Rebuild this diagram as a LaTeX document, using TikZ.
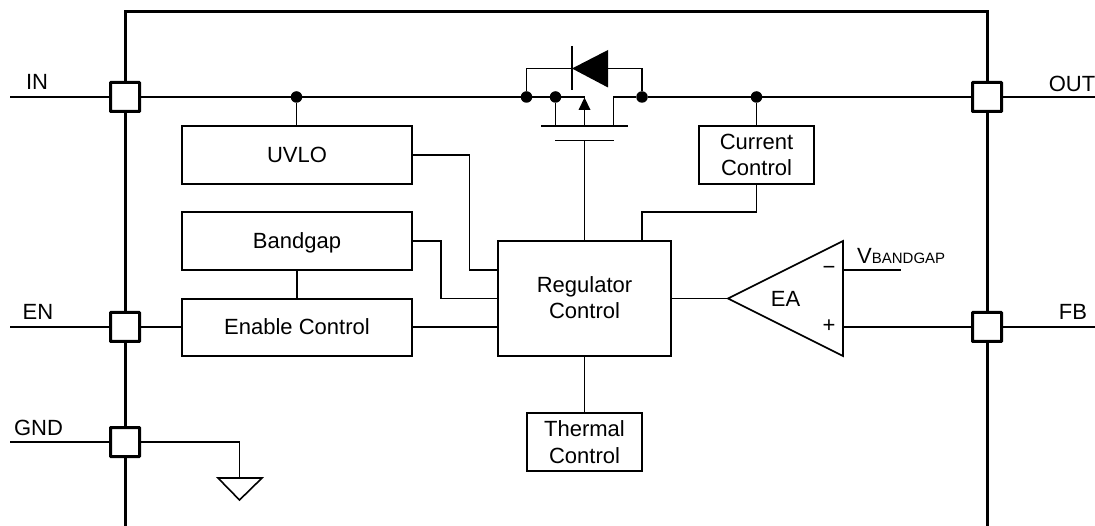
\documentclass[tikz,border=0pt]{standalone}
\usepackage{fontspec}
\setmainfont{Liberation Sans}
\usetikzlibrary{calc}
\tikzset{
  blockbox/.style={draw=black,line width=1.6pt,fill=white,inner sep=0pt,align=center,font=\fontsize{22}{26.5}\selectfont},
  pinbox/.style={draw=black,line width=3pt,fill=white,minimum width=29pt,minimum height=29pt,inner sep=0pt,rounded corners=0.5pt},
  wire/.style={draw=black,line width=1.6pt,line join=miter},
  frame/.style={draw=black,line width=3pt},
  dotnode/.style={circle,fill=black,minimum size=11.5pt,inner sep=0pt},
  lbl/.style={inner sep=0pt,font=\fontsize{22}{26}\selectfont},
  sign/.style={inner sep=0pt,font=\fontsize{22}{26}\selectfont}
}
\begin{document}
\begin{tikzpicture}[x=1pt,y=-1pt]
\useasboundingbox (0,0) rectangle (1095,526);
\fill[white] (0,0) rectangle (1095,526);
% frame
\draw[frame] (125,526) -- (125,12) -- (987,12) -- (987,526);
% pins
\node[pinbox] (pinIN) at (125,97) {};
\node[pinbox] (pinEN) at (125,327) {};
\node[pinbox] (pinGND) at (125,442) {};
\node[pinbox] (pinOUT) at (987,97) {};
\node[pinbox] (pinFB) at (987,327) {};
% free ends
\coordinate (inL) at (10,97);
\coordinate (enL) at (10,327);
\coordinate (gndL) at (10,442);
\coordinate (outR) at (1095,97);
\coordinate (fbR) at (1095,327);
% blocks
\node[blockbox,minimum width=230pt,minimum height=58pt] (uvlo) at (297,155) {UVLO};
\node[blockbox,minimum width=230pt,minimum height=58pt] (bandgap) at (297,241) {\rule{0pt}{20pt}Bandgap};
\node[blockbox,minimum width=230pt,minimum height=57pt] (enable) at (297,327.5) {\rule[-1pt]{0pt}{0pt}Enable Control};
\node[blockbox,minimum width=173pt,minimum height=115pt] (reg) at (584.5,298.5) {Regulator\\Control\rule[-2pt]{0pt}{0pt}};
\node[blockbox,minimum width=115pt,minimum height=58pt] (therm) at (584.5,442) {Thermal\\Control};
\node[blockbox,minimum width=115pt,minimum height=58pt] (curr) at (756.5,155) {Current\\Control};
% dots
\node[dotnode] (d1) at (296.5,97) {};
\node[dotnode] (d2) at (526.5,97) {};
\node[dotnode] (d3) at (555.5,97) {};
\node[dotnode] (d4) at (642,97) {};
\node[dotnode] (d5) at (756.5,97) {};
% FET helpers
\coordinate (chL) at (541,126);
\coordinate (chR) at (628,126);
\coordinate (gateL) at (555,140.5);
\coordinate (gateR) at (613.5,140.5);
\coordinate (gateM) at (584.5,140.5);
\coordinate (srcT) at (584.5,97);
\coordinate (srcB) at (584.5,126);
\coordinate (drB) at (613.5,126);
\coordinate (drT) at (613.5,97);
\coordinate (srcS) at (555.5,126);
% wires on the rails
\draw[wire] (inL) -- (pinIN);
\draw[wire] (pinIN) -- (d1) -- (d2) -- (d3) -- (srcT) -- (srcB);
\draw[wire] (d3) -- (srcS);
\draw[wire] (chL) -- (chR);
\draw[wire] (drB) -- (drT) -- (d4) -- (d5) -- (pinOUT);
\draw[wire] (pinOUT) -- (outR);
\draw[wire] (gateL) -- (gateR);
\draw[wire] (gateM) -- (gateM |- reg.north);
% arrow on FET
\fill[black] (584.5,97.5) -- (590.5,110) -- (578.5,110) -- cycle;
% diode
\coordinate (diodeK) at (572,68.5);
\draw[wire] (d2) |- (diodeK);
\draw[wire] (diodeK) -| (d4);
\draw[wire] (572,46) -- (572,90.5);
\fill[black] (diodeK) -- (608,50) -- (608,87.5) -- cycle;
% block wires
\draw[wire] (d1) -- (d1 |- uvlo.north);
\draw[wire] (d5) -- (curr.north);
\draw[wire] (uvlo.east) -- (469.5,155) -- (469.5,270) -- (reg.west |- 0,270);
\draw[wire] (bandgap.east) -- (441,241) -- (441,298.5) -- (reg.west);
\draw[wire] (bandgap.south) -- (enable.north);
\draw[wire] (pinEN) -- (enable.west |- pinEN);
\draw[wire] (enL) -- (pinEN);
\draw[wire] (enable.east |- pinEN) -- (reg.west |- pinEN);
\draw[wire] (reg.south) -- (therm.north);
\draw[wire] (642,241) -- (642,212) -- (756.5,212) -- (curr.south);
% EA
\coordinate (eaTip) at (728,298.5);
\coordinate (eaTop) at (843,241);
\coordinate (eaBot) at (843,356);
\draw[wire,line join=miter] (eaTip) -- (eaTop) -- (eaBot) -- cycle;
\node[lbl] (ealabel) at (785.5,298.5) {EA};
\node[sign] (minus) at (829,270) {\textminus};
\node[sign] (plus) at (829,326.5) {+};
\draw[wire] (reg.east) -- (eaTip);
\coordinate (vEnd) at (901,270);
\draw[wire] (843,270) -- (vEnd);
\draw[wire] (843,327) -- (pinFB);
\draw[wire] (pinFB) -- (fbR);
\node[lbl,anchor=base west] (vb) at (857,263.5) {V\fontsize{15}{16}\selectfont BANDGAP};
% GND
\draw[wire] (gndL) -- (pinGND);
\coordinate (gndApex) at (239.5,478);
\draw[wire] (pinGND) -| (gndApex);
\draw[wire,line join=miter] (218,478) -- (262,478) -- (239.5,500) -- cycle;
% labels
\node[lbl] (tIN) at (37,82) {IN};
\node[lbl] (tOUT) at (1072,84) {OUT};
\node[lbl] (tEN) at (38,312) {EN};
\node[lbl] (tFB) at (1073,312) {FB};
\node[lbl] (tGND) at (38.5,428) {GND};
\end{tikzpicture}
\end{document}
